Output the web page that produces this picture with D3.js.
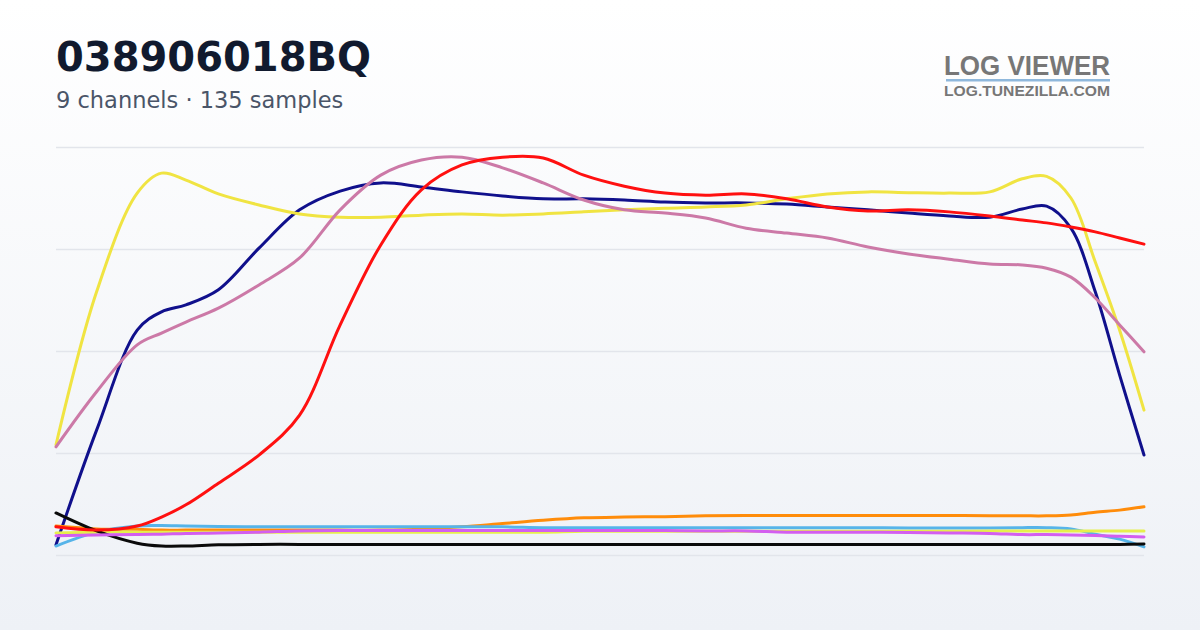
<!DOCTYPE html>
<html>
<head>
<meta charset="utf-8">
<script src="https://cdn.jsdelivr.net/npm/d3@7"></script>
<style>
  html, body { margin: 0; padding: 0; }
  body { width: 1200px; height: 630px; overflow: hidden; }
</style>
</head>
<body>
<div id="chart"></div>
<script>
// sample positions (index into the 135-sample log)
const sampleIdx = [0, 5, 10, 13, 16, 20, 25, 30, 35, 40, 45, 50, 55, 60, 65, 70, 75, 80, 85, 90, 95, 100, 105, 110, 115, 119, 122, 125, 128, 131, 134];
const sampleCount = 135;
const yTicks = [0, 25, 50, 75, 100];

// channel values
const navy = [2.5, 30.6, 55.1, 59.6, 61.3, 65.0, 75.2, 84.6, 89.2, 91.2, 90.2, 89.0, 88.0, 87.3, 87.3, 87.0, 86.5, 86.3, 86.3, 86.0, 85.3, 84.6, 83.8, 83.1, 82.8, 84.8, 85.5, 80.1, 64.5, 44.1, 24.5];
const yellow = [27.0, 64.5, 88.7, 93.6, 91.9, 88.5, 85.8, 83.6, 82.8, 82.8, 83.3, 83.6, 83.3, 83.6, 84.1, 84.6, 85.0, 85.3, 85.8, 87.3, 88.5, 89.0, 88.8, 88.7, 89.0, 92.2, 92.8, 87.5, 71.8, 55.1, 35.5];
const red = [6.9, 6.1, 7.1, 9.3, 12.3, 17.6, 24.5, 34.3, 56.4, 76.0, 89.5, 95.6, 97.5, 97.3, 93.1, 90.4, 88.7, 88.2, 88.5, 87.3, 85.3, 84.3, 84.6, 84.1, 83.1, 82.1, 81.4, 80.4, 79.2, 77.7, 76.2];
const pink = [26.5, 40.0, 51.5, 54.4, 57.1, 60.5, 66.2, 72.8, 84.6, 93.1, 96.8, 97.5, 94.9, 91.2, 87.0, 84.6, 83.8, 82.6, 80.1, 78.9, 77.7, 75.5, 73.8, 72.5, 71.3, 71.1, 70.3, 68.1, 63.0, 56.4, 49.8];
const orange = [7.1, 6.4, 6.3, 6.1, 6.1, 6.1, 6.1, 6.1, 6.1, 6.1, 6.3, 6.9, 7.7, 8.5, 9.1, 9.3, 9.4, 9.6, 9.7, 9.7, 9.7, 9.7, 9.7, 9.7, 9.6, 9.6, 9.6, 9.8, 10.5, 11.0, 11.8];
const skyblue = [2.2, 5.6, 7.1, 7.2, 7.1, 7.0, 6.9, 6.9, 6.9, 6.9, 6.9, 6.9, 6.9, 6.7, 6.7, 6.7, 6.7, 6.7, 6.7, 6.7, 6.7, 6.7, 6.6, 6.6, 6.6, 6.7, 6.7, 6.4, 5.1, 3.9, 2.0];
const paleyellow = [5.4, 5.6, 5.6, 5.6, 5.6, 5.6, 5.6, 5.6, 5.6, 5.6, 5.6, 5.6, 5.6, 5.6, 5.8, 5.8, 5.8, 5.8, 5.8, 5.8, 5.8, 5.8, 5.8, 5.8, 5.9, 5.9, 5.9, 5.9, 5.9, 5.9, 5.9];
const magenta = [4.7, 4.9, 5.0, 5.1, 5.3, 5.4, 5.6, 5.9, 6.0, 6.0, 6.0, 6.0, 6.0, 6.0, 6.0, 6.0, 6.0, 5.9, 5.9, 5.6, 5.6, 5.6, 5.5, 5.4, 5.3, 5.0, 5.0, 4.9, 4.8, 4.6, 4.4];
const black = [10.3, 5.9, 2.9, 2.2, 2.2, 2.5, 2.6, 2.6, 2.6, 2.6, 2.6, 2.6, 2.6, 2.6, 2.6, 2.6, 2.6, 2.6, 2.6, 2.6, 2.6, 2.6, 2.6, 2.6, 2.6, 2.6, 2.6, 2.6, 2.6, 2.6, 2.7];

const channels = [
  {name: "navy", color: "#10108c", values: navy},
  {name: "yellow", color: "#f0e442", values: yellow},
  {name: "pink", color: "#cc79a7", values: pink},
  {name: "orange", color: "#ff8c0a", values: orange},
  {name: "skyblue", color: "#56b4e9", values: skyblue},
  {name: "paleyellow", color: "#e6ef4c", values: paleyellow},
  {name: "black", color: "#0a0a0a", values: black},
  {name: "magenta", color: "#d35ef0", values: magenta},
  {name: "red", color: "#ff1010", values: red}
];

const width = 1200;
const height = 630;
const margin = {top: 147, right: 56, bottom: 75, left: 56};

const svg = d3.select("#chart")
  .append("svg")
  .attr("width", width)
  .attr("height", height);

const defs = svg.append("defs");
const bg = defs.append("linearGradient")
  .attr("id", "bg")
  .attr("x1", 0).attr("y1", 0).attr("x2", 0).attr("y2", 1);
bg.append("stop").attr("offset", "0%").attr("stop-color", "#ffffff");
bg.append("stop").attr("offset", "100%").attr("stop-color", "#eef1f6");

svg.append("rect")
  .attr("width", width)
  .attr("height", height)
  .attr("fill", "url(#bg)");

// header
svg.append("text")
  .attr("x", 56)
  .attr("y", 71)
  .attr("font-family", "DejaVu Sans")
  .attr("font-weight", "bold")
  .attr("font-size", 40)
  .attr("fill", "#111a2e")
  .text("038906018BQ");

svg.append("text")
  .attr("x", 56)
  .attr("y", 108)
  .attr("font-family", "DejaVu Sans")
  .attr("font-size", 22.5)
  .attr("fill", "#4a5568")
  .text(`${channels.length} channels · ${sampleCount} samples`);

// logo
const logo = svg.append("g");
logo.append("text")
  .attr("x", 944)
  .attr("y", 75)
  .attr("font-family", "Liberation Sans")
  .attr("font-weight", "bold")
  .attr("font-size", 27)
  .attr("textLength", 166)
  .attr("lengthAdjust", "spacingAndGlyphs")
  .attr("fill", "#777777")
  .text("LOG VIEWER");
logo.append("rect")
  .attr("x", 946)
  .attr("y", 79)
  .attr("width", 164)
  .attr("height", 2.5)
  .attr("fill", "#8fb8dc");
logo.append("text")
  .attr("x", 944)
  .attr("y", 96)
  .attr("font-family", "Liberation Sans")
  .attr("font-weight", "bold")
  .attr("font-size", 14.5)
  .attr("textLength", 166)
  .attr("lengthAdjust", "spacingAndGlyphs")
  .attr("fill", "#777777")
  .text("LOG.TUNEZILLA.COM");

const xScale = d3.scaleLinear()
  .domain([0, sampleCount - 1])
  .range([margin.left, width - margin.right]);

const yScale = d3.scaleLinear()
  .domain([0, 100])
  .range([555, margin.top]);

// grid
const yAxis = d3.axisLeft(yScale)
  .tickValues(yTicks)
  .tickSize(-(width - margin.left - margin.right))
  .tickFormat("");
const grid = svg.append("g")
  .attr("transform", `translate(${margin.left}, 0)`)
  .call(yAxis);
grid.select(".domain").remove();
grid.selectAll(".tick line")
  .attr("stroke", "#e2e5eb")
  .attr("stroke-width", 1.5);

const line = d3.line()
  .x((d, i) => xScale(sampleIdx[i]))
  .y(d => yScale(d))
  .curve(d3.curveCatmullRom.alpha(0.5));

svg.append("g")
  .selectAll("path")
  .data(channels)
  .enter()
  .append("path")
  .attr("d", d => line(d.values))
  .attr("fill", "none")
  .attr("stroke", d => d.color)
  .attr("stroke-width", 3)
  .attr("stroke-linejoin", "round")
  .attr("stroke-linecap", "round");
</script>
</body>
</html>
